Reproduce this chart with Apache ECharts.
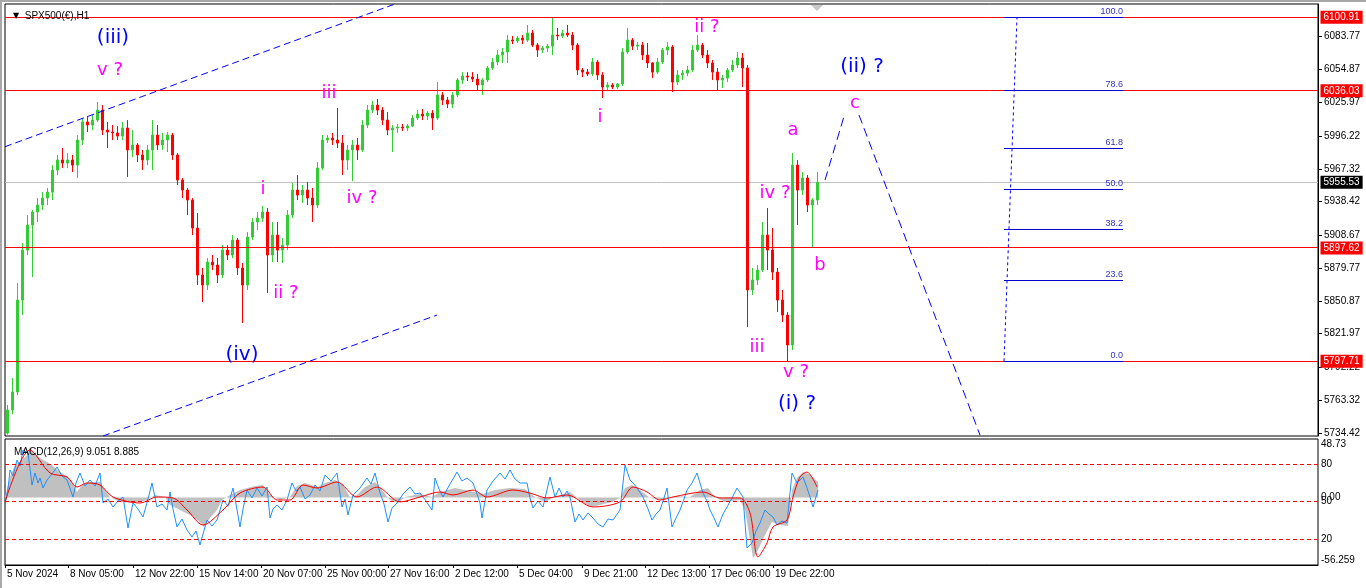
<!DOCTYPE html>
<html>
<head>
<meta charset="utf-8">
<script src="https://cdn.jsdelivr.net/npm/echarts@6/dist/echarts.min.js"></script>
<style>
  html, body { margin: 0; padding: 0; background: #fff; }
  #chart { width: 1366px; height: 588px; }
</style>
</head>
<body>
<div id="chart"></div>
<script>
// ---- SPX500(€) H1 : price candles, grouped 5 hourly bars per candle [open, close, low, high]
const BARS_PER_CANDLE = 5;
const CANDLES = [
  [5734.4,5754.7,5733.0,5759.1],[5754.7,5770.6,5751.0,5782.9],[5770.6,5851.6,5767.9,5866.6],[5851.6,5895.7,5838.4,5901.9],
  [5895.7,5917.8,5891.3,5926.6],[5917.8,5929.2,5871.9,5931.0],[5929.2,5935.4,5920.4,5941.6],[5935.4,5941.6,5931.0,5946.8],
  [5941.6,5946.8,5935.4,5950.4],[5946.8,5966.2,5939.8,5970.6],[5966.2,5975.1,5961.8,5979.5],[5975.1,5972.4,5968.0,5985.6],
  [5972.4,5975.1,5968.0,5981.2],[5975.1,5970.6,5964.5,5979.5],[5970.6,5992.7,5959.2,5997.1],[5992.7,6008.6,5988.3,6012.1],
  [6008.6,6005.9,5999.7,6013.9],[6005.9,6010.3,6001.5,6014.7],[6010.3,6019.1,6008.6,6026.2],[6019.1,6001.5,5997.1,6023.5],
  [6001.5,5999.7,5985.6,6008.6],[5999.7,5998.9,5992.7,6005.9],[5998.9,5996.2,5992.7,6005.0],[5996.2,6003.3,5992.7,6008.6],
  [6003.3,5983.9,5960.1,6010.3],[5983.9,5988.3,5977.7,6001.5],[5988.3,5979.5,5973.3,5990.0],[5979.5,5975.1,5966.2,5983.9],
  [5975.1,5983.9,5970.6,5988.3],[5983.9,5997.1,5966.2,6010.3],[5997.1,5988.3,5983.9,6005.9],[5988.3,5992.7,5983.9,5998.9],
  [5992.7,5997.1,5982.1,5999.7],[5997.1,5979.5,5975.1,5998.9],[5979.5,5957.4,5953.0,5981.2],[5957.4,5948.6,5941.6,5959.2],
  [5948.6,5939.8,5926.6,5950.4],[5939.8,5915.1,5908.9,5941.6],[5915.1,5873.7,5864.9,5928.3],[5873.7,5864.9,5849.9,5879.9],
  [5864.9,5885.1,5860.5,5888.7],[5885.1,5882.5,5878.1,5891.3],[5882.5,5873.7,5866.6,5888.7],[5873.7,5895.7,5871.0,5900.1],
  [5895.7,5891.3,5886.9,5900.1],[5891.3,5904.5,5888.7,5908.9],[5904.5,5879.9,5873.7,5906.3],[5879.9,5864.9,5831.4,5884.3],
  [5864.9,5907.2,5860.5,5911.6],[5907.2,5920.4,5904.5,5923.9],[5920.4,5923.9,5913.4,5929.2],[5923.9,5929.2,5920.4,5934.5],
  [5929.2,5891.3,5857.8,5932.8],[5891.3,5908.9,5885.1,5920.4],[5908.9,5895.7,5885.1,5920.4],[5895.7,5900.1,5884.3,5906.3],
  [5900.1,5926.6,5895.7,5931.0],[5926.6,5948.6,5923.9,5954.8],[5948.6,5944.2,5939.8,5961.8],[5944.2,5948.6,5937.2,5953.0],
  [5948.6,5941.6,5935.4,5955.7],[5941.6,5935.4,5920.4,5950.4],[5935.4,5968.0,5932.8,5973.3],[5968.0,5992.7,5966.2,5997.1],
  [5992.7,5994.4,5990.0,5997.1],[5994.4,5992.7,5988.3,5998.9],[5992.7,5990.0,5985.6,6020.9],[5990.0,5975.1,5961.8,5997.1],
  [5975.1,5983.9,5966.2,5988.3],[5983.9,5988.3,5956.5,5992.7],[5988.3,5983.9,5975.1,5994.4],[5983.9,6005.9,5982.1,6010.3],
  [6005.9,6019.1,6003.3,6023.5],[6019.1,6023.5,6016.5,6027.1],[6023.5,6019.1,6014.7,6028.8],[6019.1,6010.3,6005.9,6021.8],
  [6010.3,6001.5,5997.1,6017.4],[6001.5,6003.3,5982.1,6005.9],[6003.3,6004.1,5998.9,6006.8],[6004.1,6003.3,6000.6,6006.8],
  [6003.3,6005.0,6000.6,6006.8],[6005.0,6012.1,6004.1,6014.7],[6012.1,6015.6,6010.3,6019.1],[6015.6,6013.9,6010.3,6020.0],
  [6013.9,6016.5,6010.3,6018.3],[6016.5,6012.1,6001.5,6019.1],[6012.1,6032.4,6010.3,6043.8],[6032.4,6027.9,6023.5,6035.0],
  [6027.9,6024.4,6020.9,6030.6],[6024.4,6032.4,6020.9,6035.0],[6032.4,6045.6,6030.6,6047.3],[6045.6,6049.1,6042.1,6052.6],
  [6049.1,6048.2,6044.7,6052.6],[6048.2,6046.5,6043.8,6052.6],[6046.5,6041.2,6036.8,6050.9],[6041.2,6045.6,6032.4,6047.3],
  [6045.6,6056.2,6043.8,6057.9],[6056.2,6061.5,6054.4,6065.0],[6061.5,6067.6,6058.8,6072.0],[6067.6,6070.3,6060.6,6073.8],
  [6070.3,6080.8,6060.6,6085.2],[6080.8,6080.0,6077.3,6084.4],[6080.0,6082.6,6078.2,6084.4],[6082.6,6080.8,6077.3,6085.2],
  [6080.8,6087.0,6079.1,6094.1],[6087.0,6076.4,6074.7,6089.7],[6076.4,6072.0,6065.9,6078.2],[6072.0,6073.8,6069.4,6075.5],
  [6073.8,6075.5,6070.3,6077.3],[6075.5,6085.2,6067.6,6100.9],[6085.2,6084.4,6080.8,6091.4],[6084.4,6087.0,6082.6,6089.7],
  [6087.0,6085.2,6083.5,6094.1],[6085.2,6076.4,6072.0,6087.9],[6076.4,6054.4,6050.0,6078.2],[6054.4,6052.6,6048.2,6056.2],
  [6052.6,6050.9,6049.1,6055.3],[6050.9,6061.5,6049.1,6065.0],[6061.5,6050.0,6045.6,6063.2],[6050.0,6039.4,6029.7,6052.6],
  [6039.4,6041.2,6036.8,6043.8],[6041.2,6039.4,6037.6,6042.9],[6039.4,6042.1,6037.6,6042.9],[6042.1,6070.3,6040.3,6073.8],
  [6070.3,6080.8,6068.5,6091.4],[6080.8,6075.5,6072.0,6082.6],[6075.5,6076.4,6072.0,6079.1],[6076.4,6067.6,6063.2,6079.1],
  [6067.6,6060.6,6056.2,6078.2],[6060.6,6052.6,6047.3,6061.5],[6052.6,6061.5,6050.9,6065.0],[6061.5,6072.0,6059.7,6073.8],
  [6072.0,6074.7,6067.6,6079.1],[6074.7,6043.8,6035.0,6076.4],[6043.8,6050.0,6041.2,6054.4],[6050.0,6051.7,6045.6,6054.4],
  [6051.7,6054.4,6049.1,6057.9],[6054.4,6072.0,6052.6,6076.4],[6072.0,6076.4,6070.3,6085.2],[6076.4,6067.6,6065.0,6078.2],
  [6067.6,6060.6,6056.2,6072.0],[6060.6,6052.6,6045.6,6063.2],[6052.6,6045.6,6036.8,6056.2],[6045.6,6047.3,6038.5,6050.0],
  [6047.3,6054.4,6043.8,6056.2],[6054.4,6058.8,6052.6,6063.2],[6058.8,6065.0,6056.2,6070.3],[6065.0,6056.2,6039.4,6069.4],
  [6056.2,5860.5,5827.9,6058.8],[5860.5,5869.3,5856.1,5879.9],[5869.3,5878.1,5864.9,5882.5],[5878.1,5908.9,5876.3,5920.4],
  [5908.9,5895.7,5878.1,5932.8],[5895.7,5876.3,5869.3,5915.1],[5876.3,5851.6,5841.0,5879.9],[5851.6,5838.4,5832.3,5860.5],
  [5838.4,5812.0,5797.7,5841.0],[5812.0,5970.6,5807.6,5981.2],[5970.6,5948.6,5917.8,5975.1],[5948.6,5959.2,5944.2,5964.5],
  [5959.2,5935.4,5929.2,5961.8],[5935.4,5939.8,5897.6,5941.6],[5939.8,5955.53,5935.4,5964.5]
];

// price scale range and the tick values printed on the right-hand scale
const PRICE_MIN = 5731.8;
const PRICE_MAX = 6112.6;
const PRICE_TICKS = [6083.77, 6054.87, 6025.97, 5996.22, 5967.32, 5938.42, 5908.67, 5879.77, 5850.87, 5821.97, 5792.22, 5763.32, 5734.42];

// horizontal support / resistance levels and the last bid
const LEVELS = [6100.91, 6036.03, 5897.62, 5797.71];
const LAST_PRICE = 5955.53;

// bar-index range of the chart window and time scale labels
const BAR_COUNT = 1313;
const TIME_TICKS = [0, 63, 128, 192, 256, 320, 383, 448, 512, 577, 640, 704, 768];
const TIME_LABELS = ['5 Nov 2024', '8 Nov 05:00', '12 Nov 22:00', '15 Nov 14:00', '20 Nov 07:00', '25 Nov 00:00',
  '27 Nov 16:00', '2 Dec 12:00', '5 Dec 04:00', '9 Dec 21:00', '12 Dec 13:00', '17 Dec 06:00', '19 Dec 22:00'];

// Fibonacci retracement of the (i) leg
const FIB_LOW = 5797.71;
const FIB_HIGH = 6100.91;
const FIB_RATIOS = [0, 23.6, 38.2, 50, 61.8, 78.6, 100];
const FIB_SPAN = [999, 1118];
const FIB_ANCHOR = [[999, 5797.71], [1012, 6100.91]];

// trend channel and projected (ii) path: [bar, price]
const CHANNEL_UPPER = [[0, 5986.8], [390, 6112.6]];
const CHANNEL_LOWER = [[98, 5731.8], [432, 5838.4]];
const PROJECTION_UP = [[820, 5957.4], [840, 6016.5]];
const PROJECTION_DOWN = [[854, 6014.7], [975, 5732.6]];

// Elliott wave labels: [bar, price, text]
const MAJOR_WAVES = [
  [108, 6082.6, '(iii)'], [237, 5803.0, '(iv)'], [792, 5760.0, '(i) ?'], [857, 6057.0, '(ii) ?']
];
const MINOR_WAVES = [
  [105, 6054.4, 'v ?'], [324, 6034.1, 'iii'], [258, 5949.5, 'i'], [281, 5857.8, 'ii ?'], [357, 5941.6, 'iv ?'],
  [595, 6013.0, 'i'], [702, 6092.3, 'ii ?'], [752, 5810.2, 'iii'], [770, 5946.0, 'iv ?'], [788, 6001.5, 'a'],
  [815, 5882.5, 'b'], [791, 5788.1, 'v ?'], [850, 6025.3, 'c']
];

// MACD(12,26,9) window: histogram, signal and the 0-100 oscillator, as [bar, value]
const MACD_MIN = -56.259;
const MACD_MAX = 48.73;
const MACD_TICKS = [-56.259, 0, 48.73];
const MACD_TICK_LABELS = ['-56.259', '0.00', '48.73'];
const OSC_LEVELS = [20, 50, 80];
const MACD_HIST = [
  [0,0.4],[3,10.4],[5,17.1],[10,27.1],[17,31.2],[22,35.4],[25,42.1],[28,37.9],[35,32.9],[42,29.6],[48,26.2],[55,21.2],
  [62,17.9],[67,12.9],[72,4.6],[77,10.4],[85,12.9],[95,12.9],[100,6.2],[105,0.4],[115,-3.7],[130,-4.6],[142,-2.1],
  [150,2.1],[160,0.4],[165,-6.2],[175,-10.4],[185,-14.6],[195,-20.4],[199,-24.6],[205,-17.1],[212,-10.4],[217,-2.1],
  [225,2.1],[235,6.2],[250,9.6],[258,10.4],[265,2.1],[275,-2.1],[285,0.4],[292,9.6],[300,12.1],[313,8.7],[320,12.1],
  [330,14.6],[338,10.4],[345,0.4],[352,2.1],[360,8.7],[370,12.9],[377,6.2],[385,-2.1],[393,-4.6],[400,0.4],[415,2.9],
  [427,0.4],[435,4.6],[450,7.9],[465,5.4],[478,2.9],[490,6.2],[505,7.9],[520,7.1],[530,0.4],[540,-3.7],[550,0.4],
  [565,4.6],[575,-2.1],[585,-7.9],[595,-6.2],[607,-3.7],[615,-0.4],[620,7.9],[627,10.4],[635,6.2],[645,-0.4],
  [657,-2.1],[670,1.2],[685,0.4],[695,6.2],[703,7.9],[710,0.4],[720,-3.7],[735,-2.1],[740,-10.4],[745,-35.4],
  [748,-50.4],[753,-43.7],[760,-31.2],[767,-20.4],[775,-22.9],[783,-23.7],[787,6.2],[792,16.2],[798,21.2],[805,19.2],[813,12.9]
];
const MACD_SIGNAL = [
  [0,-3.7],[25,39.6],[45,20.4],[62,17.1],[72,8.7],[82,12.1],[95,10.4],[108,0.4],[135,-4.6],[152,0.4],[168,-0.4],
  [182,-10.4],[198,-22.9],[218,-10.4],[235,3.7],[258,8.7],[272,-2.1],[285,-2.1],[298,10.4],[312,7.9],[332,12.9],
  [352,0.4],[372,8.7],[395,-3.7],[415,0.4],[435,4.6],[448,2.1],[468,6.2],[482,0.4],[508,6.2],[525,3.7],[542,-0.4],
  [562,2.1],[588,-7.9],[615,-3.7],[628,8.7],[642,4.6],[655,-2.1],[668,0.4],[698,4.6],[715,-0.4],[735,-0.4],
  [745,-12.9],[753,-49.6],[762,-37.9],[768,-24.6],[782,-18.7],[788,0.4],[795,17.1],[802,21.2],[812,8.7]
];
const OSCILLATOR = [
  [0,47.2],[3,60.0],[5,75.2],[8,70.4],[12,83.2],[15,78.4],[18,91.2],[23,88.8],[27,63.2],[30,72.8],[33,64.8],[35,68.8],
  [38,60.8],[42,67.2],[47,72.0],[52,77.6],[57,70.4],[62,67.2],[68,53.6],[71,64.8],[75,72.8],[80,62.4],[85,67.2],
  [90,62.4],[95,72.8],[98,48.8],[103,52.0],[108,45.6],[113,50.4],[118,53.6],[123,28.8],[128,48.8],[133,44.0],
  [138,37.6],[143,52.0],[147,64.8],[152,45.6],[157,48.0],[162,43.2],[165,57.6],[168,44.0],[172,29.6],[177,36.0],
  [182,27.2],[187,21.6],[191,26.4],[195,15.2],[198,24.0],[202,35.2],[207,30.4],[212,35.2],[218,51.2],[223,46.4],
  [228,60.8],[231,48.0],[235,29.6],[238,44.0],[242,59.2],[247,52.8],[252,60.8],[257,54.4],[262,61.6],[265,36.8],
  [268,44.0],[272,47.2],[277,43.2],[282,51.2],[287,64.8],[291,58.4],[295,61.6],[300,52.0],[305,55.2],[310,63.2],
  [315,58.4],[320,71.2],[326,66.4],[332,72.8],[337,45.6],[340,52.0],[343,39.2],[348,55.2],[355,60.8],[362,68.8],
  [366,64.0],[370,72.8],[375,56.8],[379,48.0],[383,33.6],[387,44.8],[392,48.8],[398,56.0],[405,61.6],[410,56.0],
  [415,56.8],[421,50.4],[427,43.2],[430,68.8],[434,60.0],[438,53.6],[445,64.0],[452,73.6],[457,66.4],[462,68.8],
  [468,64.8],[472,56.0],[475,48.8],[477,36.8],[482,59.2],[488,66.4],[495,72.8],[500,68.0],[505,75.2],[510,68.0],
  [515,64.8],[522,64.8],[525,52.8],[528,44.8],[533,50.4],[538,45.6],[545,69.6],[550,53.6],[554,60.8],[558,53.6],
  [562,58.4],[565,53.6],[570,33.6],[574,40.0],[578,35.2],[583,40.8],[588,36.8],[593,32.0],[598,29.6],[603,36.0],
  [608,35.2],[615,43.2],[620,79.2],[625,67.2],[629,64.0],[632,60.8],[638,53.6],[643,44.0],[647,35.2],[651,40.0],
  [655,43.2],[659,52.8],[662,60.8],[667,29.6],[671,36.8],[675,43.2],[679,52.0],[682,59.2],[687,64.8],[692,72.8],
  [698,56.8],[702,50.4],[705,43.2],[709,36.8],[713,29.6],[718,40.0],[722,45.6],[727,52.8],[732,60.8],[738,53.6],
  [742,12.8],[747,16.8],[751,26.4],[755,32.8],[760,43.2],[764,40.0],[768,37.6],[772,31.2],[777,34.4],[782,32.8],
  [787,72.8],[792,64.8],[798,69.6],[802,60.8],[805,53.6],[808,45.6],[813,59.2]
];

// ---- styling
const FONT = '"Liberation Sans", Arial, sans-serif';
const WAVE_FONT = '"DejaVu Sans", sans-serif';
const UP = '#32cd32';
const DOWN = '#ff0000';
const LEVEL_RED = '#ff0000';
const FIB_BLUE = '#0000cd';

const candleData = CANDLES.map((c, i) => [i * BARS_PER_CANDLE + BARS_PER_CANDLE / 2, c[0], c[1], c[2], c[3]]);
const fibLevels = FIB_RATIOS.map(r => ({ ratio: r, value: FIB_LOW + (FIB_HIGH - FIB_LOW) * r / 100 }));

// straight segment between data points on the price panel
function segment(data, dash, color, z) {
  return {
    type: 'line', xAxisIndex: 0, yAxisIndex: 0, data: data, showSymbol: false, silent: true, z: z,
    lineStyle: { color: color, width: 1, type: dash, opacity: 1 }, animation: false
  };
}

// crisp horizontal lines: rows of [x0, x1, price], snapped to the pixel grid
function hLines(rows, color, z) {
  return {
    type: 'custom', xAxisIndex: 0, yAxisIndex: 0, data: rows, encode: { x: [0, 1], y: 2 },
    silent: true, z: z, animation: false, clip: false,
    renderItem: (params, api) => {
      const a = api.coord([api.value(0), api.value(2)]);
      const b = api.coord([api.value(1), api.value(2)]);
      const y = Math.round(a[1] - 0.5) + 0.5;
      return { type: 'line', shape: { x1: a[0], y1: y, x2: b[0], y2: y }, style: { stroke: color, lineWidth: 1 } };
    }
  };
}

// text placed at data points of the price panel
function textSeries(data, label, z) {
  return {
    type: 'scatter', xAxisIndex: 0, yAxisIndex: 0, data: data, symbolSize: 1, silent: true, z: z || 9, clip: false,
    itemStyle: { color: 'rgba(0,0,0,0)', opacity: 1 },
    label: Object.assign({ show: true, formatter: p => p.data[2], opacity: 1 }, label),
    labelLayout: { hideOverlap: false },
    animation: false
  };
}

// value boxes on the price scale for the given levels
function priceBoxes(values, bg) {
  return textSeries(values.map(v => [BAR_COUNT, v, v.toFixed(2)]), {
    position: 'right', distance: 2, color: '#fff', backgroundColor: bg, padding: [2, 3, 1, 3],
    fontSize: 10, fontFamily: FONT
  }, 10);
}

const chart = echarts.init(document.getElementById('chart'), null, { renderer: 'canvas' });
chart.setOption({
  animation: false,
  backgroundColor: '#ffffff',
  title: [
    { text: '{t|▼}  SPX500(€),H1', left: 8, top: 6,
      textStyle: { fontSize: 10, fontWeight: 'normal', color: '#000', fontFamily: FONT,
        rich: { t: { fontSize: 8, fontFamily: WAVE_FONT, color: '#000' } } } },
    { text: 'MACD(12,26,9) 9.051 8.885', left: 9, top: 442,
      textStyle: { fontSize: 10, fontWeight: 'normal', color: '#000', fontFamily: FONT } }
  ],
  graphic: [
    { type: 'rect', shape: { x: 0, y: 0, width: 1366, height: 2 }, style: { fill: '#a8a8a8' }, silent: true },
    { type: 'rect', shape: { x: 0, y: 0, width: 2, height: 588 }, style: { fill: '#a8a8a8' }, silent: true },
    { type: 'polygon', shape: { points: [[811, 5], [823, 5], [817, 11]] }, style: { fill: '#c8c8c8' }, silent: true }
  ],
  grid: [
    { left: 5, top: 4, width: 1313, height: 432, show: true, borderColor: '#000', borderWidth: 1,
      backgroundColor: '#fff', containLabel: false, outerBoundsMode: 'none' },
    { left: 5, top: 439, width: 1313, height: 126, show: true, borderColor: '#000', borderWidth: 1,
      backgroundColor: '#fff', containLabel: false, outerBoundsMode: 'none' }
  ],
  xAxis: [
    { gridIndex: 0, type: 'value', min: 0, max: BAR_COUNT, show: false, splitLine: { show: false },
      axisLine: { show: false, onZero: false } },
    { gridIndex: 1, type: 'value', min: 0, max: BAR_COUNT, splitLine: { show: false },
      axisLine: { show: true, onZero: false, lineStyle: { color: '#000' } },
      axisTick: { show: true, customValues: TIME_TICKS, length: 3, lineStyle: { color: '#000' } },
      axisLabel: { customValues: TIME_TICKS, formatter: v => TIME_LABELS[TIME_TICKS.indexOf(v)] || '',
        align: 'left', margin: 4, fontSize: 10, color: '#000', fontFamily: FONT, padding: [0, 0, 0, 2] } }
  ],
  yAxis: [
    { gridIndex: 0, type: 'value', position: 'right', min: PRICE_MIN, max: PRICE_MAX, splitLine: { show: false },
      axisLine: { show: true, onZero: false, lineStyle: { color: '#000' } },
      axisTick: { show: true, customValues: PRICE_TICKS, length: 4, lineStyle: { color: '#000' } },
      axisLabel: { customValues: PRICE_TICKS, formatter: v => v.toFixed(2), margin: 6, fontSize: 10, color: '#000', fontFamily: FONT } },
    { gridIndex: 1, type: 'value', position: 'right', min: MACD_MIN, max: MACD_MAX, splitLine: { show: false },
      axisLine: { show: false, onZero: false }, axisTick: { show: false },
      axisLabel: { customValues: MACD_TICKS, formatter: v => MACD_TICK_LABELS[MACD_TICKS.indexOf(v)] || '',
        margin: 3, fontSize: 10, color: '#000', fontFamily: FONT,
        verticalAlignMinLabel: 'bottom', verticalAlignMaxLabel: 'top' } },
    { gridIndex: 1, type: 'value', position: 'right', min: -0.8, max: 100, splitLine: { show: false },
      axisLine: { show: false, onZero: false }, axisTick: { show: false },
      axisLabel: { customValues: OSC_LEVELS, formatter: v => String(v), margin: 3, fontSize: 10, color: '#000', fontFamily: FONT } }
  ],
  series: [
    // last bid line
    hLines([[0, BAR_COUNT, LAST_PRICE]], '#c0c0c0', 1),
    // candles
    { type: 'candlestick', xAxisIndex: 0, yAxisIndex: 0, data: candleData, encode: { x: 0, y: [1, 2, 3, 4] },
      barWidth: 3, silent: true, z: 2,
      itemStyle: { color: UP, color0: DOWN, borderColor: UP, borderColor0: DOWN, borderWidth: 1 } },
    // horizontal support / resistance levels
    hLines(LEVELS.map(v => [0, BAR_COUNT, v]), LEVEL_RED, 4),
    // channel and projected path
    segment(CHANNEL_UPPER, [7, 4], '#0000ff', 5),
    segment(CHANNEL_LOWER, [7, 4], '#0000ff', 5),
    segment(PROJECTION_UP, [9, 5], '#0000ff', 5),
    segment(PROJECTION_DOWN, [9, 5], '#0000ff', 5),
    // Fibonacci retracement: dotted base line, level segments and ratio captions
    segment(FIB_ANCHOR, [3, 3], '#0000ff', 6),
    hLines(fibLevels.map(f => [FIB_SPAN[0], FIB_SPAN[1], f.value]), FIB_BLUE, 6),
    textSeries(fibLevels.map(f => [FIB_SPAN[1], f.value, f.ratio.toFixed(1)]),
      { position: 'top', align: 'right', distance: 1, color: '#3030c8', fontSize: 9, fontFamily: FONT }),
    // Elliott wave labels
    textSeries(MAJOR_WAVES, { position: 'inside', color: '#0000ff', fontSize: 20, fontFamily: WAVE_FONT }),
    textSeries(MINOR_WAVES, { position: 'inside', color: '#ff00ff', fontSize: 18, fontFamily: WAVE_FONT }),
    // boxes on the price scale
    priceBoxes(LEVELS, LEVEL_RED),
    priceBoxes([LAST_PRICE], '#000000'),
    // MACD window
    { type: 'line', xAxisIndex: 1, yAxisIndex: 1, data: MACD_HIST, showSymbol: false, silent: true, z: 2,
      lineStyle: { width: 0 }, areaStyle: { color: '#c0c0c0', opacity: 1 } },
    { type: 'line', xAxisIndex: 1, yAxisIndex: 2, data: OSCILLATOR, showSymbol: false, silent: true, z: 3,
      lineStyle: { color: '#1e90ff', width: 1 },
      markLine: { symbol: 'none', silent: true, animation: false, emphasis: { disabled: true },
        lineStyle: { color: '#ff0000', width: 1, type: [4, 3] }, label: { show: false },
        data: OSC_LEVELS.map(v => ({ yAxis: v })) } },
    { type: 'line', xAxisIndex: 1, yAxisIndex: 1, data: MACD_SIGNAL, showSymbol: false, silent: true, z: 4,
      smooth: 0.3, lineStyle: { color: '#ff0000', width: 1 } }
  ]
});
</script>
</body>
</html>
